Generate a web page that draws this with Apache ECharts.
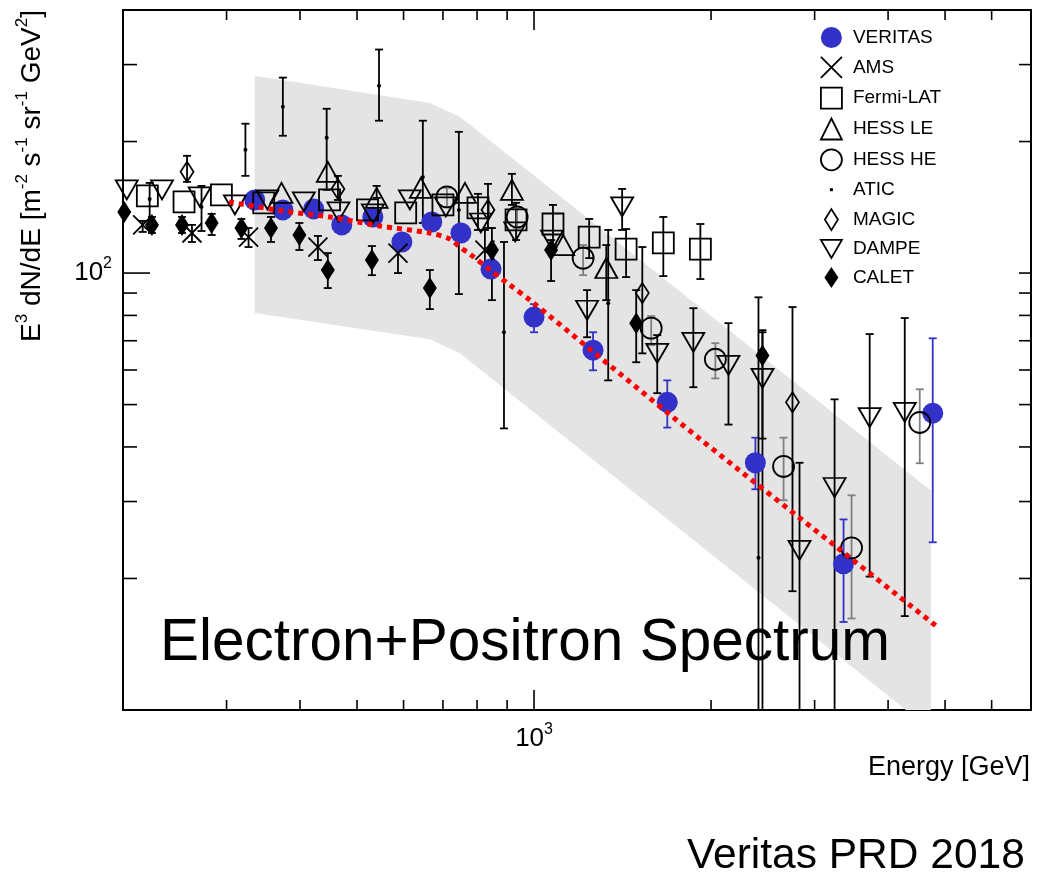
<!DOCTYPE html>
<html>
<head>
    <meta charset="utf-8">
    <title>Electron+Positron Spectrum</title>
    <script src="https://cdn.jsdelivr.net/npm/echarts@6/dist/echarts.min.js"></script>
    <style>
        html, body { margin: 0; padding: 0; background: #fff; }
        #chart { width: 1038px; height: 878px; }
    </style>
</head>
<body>
<div id="chart"></div>
<script type="text/javascript">
    // each point: [E (GeV), E^3 dN/dE, low, high]
    var veritas = [
        [335, 147.0, 147.0, 147.0], [374, 139.5, 139.5, 139.5], [422, 140.2, 140.2, 140.2],
        [471, 128.9, 128.9, 128.9], [532, 134.4, 134.4, 134.4], [596, 117.8, 117.8, 117.8],
        [670, 130.9, 130.9, 130.9], [751, 123.5, 123.5, 123.5], [845, 102.1, 102.1, 102.1],
        [1000, 79.3, 73.2, 84.9], [1260, 66.6, 59.9, 73.2], [1685, 50.6, 44.3, 56.8],
        [2379, 36.8, 32.0, 42.0], [3360, 21.6, 15.9, 27.3], [4764, 47.8, 24.2, 70.9]
    ];
    var ams = [
        [216, 128.9, 124.2, 131.6], [262, 123.5, 117.8, 128.9], [327, 120.9, 114.7, 126.8],
        [429, 114.7, 107.1, 121.6], [587, 111.1, 100.0, 119.0], [825, 112.9, 101.6, 125.5]
    ];
    var fermi = [
        [220, 150.2, 150.2, 150.2], [254, 145.5, 145.5, 145.5], [294, 151.0, 151.0, 151.0],
        [347, 144.8, 144.8, 144.8], [449, 147.0, 147.0, 147.0], [521, 139.5, 139.5, 139.5],
        [605, 137.3, 137.3, 137.3], [700, 143.2, 143.2, 143.2], [803, 141.0, 125.5, 151.8],
        [932, 132.3, 119.0, 144.8], [1077, 129.5, 115.9, 143.2], [1241, 120.9, 108.2, 133.0],
        [1434, 113.5, 97.9, 126.1], [1659, 117.2, 98.4, 134.4], [1918, 113.5, 96.9, 129.5]
    ];
    var hessLE = [
        [372, 152.6, 152.6, 152.6], [446, 170.5, 170.5, 170.5], [540, 148.6, 148.6, 158.3],
        [642, 156.7, 156.7, 156.7], [763, 152.6, 152.6, 152.6], [917, 155.0, 143.2, 168.7],
        [1121, 115.9, 115.9, 115.9], [1327, 102.7, 86.7, 115.9]
    ];
    var hessHE = [
        [711, 149.4, 141.7, 156.7], [936, 134.4, 126.8, 141.0], [1212, 108.2, 98.9, 115.9],
        [1582, 74.8, 68.4, 79.7], [2034, 63.5, 57.4, 69.1], [2657, 36.1, 30.2, 42.0],
        [3467, 23.5, 16.2, 31.0], [4528, 45.5, 36.7, 54.2]
    ];
    var atic = [
        [222, 147.8, 126.8, 160.8], [272, 141.7, 124.8, 158.3], [323, 191.5, 166.9, 219.7],
        [374, 240.3, 206.2, 280.1], [444, 204.0, 155.0, 237.7], [545, 268.5, 223.2, 324.8],
        [647, 166.0, 130.2, 223.2], [745, 139.5, 89.5, 210.5], [889, 73.2, 44.1, 117.8],
        [1337, 85.3, 56.8, 125.5], [2408, 22.3, 9.0, 88.0]
    ];
    var magic = [
        [257, 170.5, 161.7, 185.5], [464, 155.8, 147.0, 166.9], [835, 139.5, 126.8, 160.0],
        [1528, 90.0, 65.5, 114.7], [2751, 50.6, 18.7, 83.6]
    ];
    var dampe = [
        [203, 155.0, 155.0, 155.0], [233, 155.0, 155.0, 155.0], [270, 149.4, 149.4, 149.4],
        [310, 143.2, 143.2, 143.2], [352, 147.0, 147.0, 147.0], [406, 145.5, 145.5, 145.5],
        [465, 138.0, 138.0, 138.0], [532, 136.6, 136.6, 136.6], [615, 147.0, 147.0, 147.0],
        [708, 141.7, 141.7, 141.7], [812, 130.2, 130.2, 130.2], [929, 124.2, 124.2, 124.2],
        [1073, 119.0, 119.0, 119.0], [1231, 82.2, 71.3, 91.4], [1412, 141.7, 125.5, 155.8],
        [1620, 65.5, 53.1, 72.1], [1866, 69.4, 54.8, 83.1], [2141, 61.5, 45.0, 76.8],
        [2446, 57.4, 9.0, 73.2], [2828, 23.2, 9.0, 36.8], [3244, 32.3, 9.0, 51.4],
        [3722, 46.7, 20.2, 72.5], [4270, 48.0, 16.4, 78.9]
    ];
    var calet = [
        [201, 138.0, 138.0, 138.0], [224, 128.9, 123.5, 134.4], [252, 128.9, 123.5, 134.4],
        [283, 130.2, 122.2, 136.6], [318, 126.8, 119.7, 133.0], [357, 126.8, 117.8, 134.4],
        [399, 122.2, 112.9, 130.2], [446, 101.6, 92.4, 111.1], [530, 107.1, 98.9, 115.3],
        [665, 92.4, 82.7, 101.6], [848, 112.9, 86.7, 126.8], [1069, 112.9, 95.9, 119.0],
        [1492, 76.8, 62.5, 91.4], [2446, 64.8, 41.8, 74.0]
    ];

    // red dotted fit
    var fitE = [303, 374, 449, 546, 665, 719, 748, 778, 842, 910, 984, 1270, 1903, 3283, 4878];
    var fitF = [145.5, 138.7, 134.4, 128.2, 123.5, 119.7, 114.7, 110.6, 101.6, 93.9, 86.7, 65.5, 42.0, 23.5, 15.4];

    // grey systematic band (outline)
    var bandE = [335, 665, 748, 4730, 4730, 748, 665, 335];
    var bandF = [283, 245, 228, 31.8, 9.0, 65.5, 70.6, 81.0];

    var xTicks = [300, 400, 500, 600, 700, 800, 900, 1000, 2000, 3000, 4000, 5000, 6000];
    var yTicks = [20, 30, 40, 50, 60, 70, 80, 90, 100, 200, 300];

    var font = "'Liberation Sans', Arial, Helvetica, sans-serif";
    var blue = '#3232c8';
    var openStyle = {color: 'rgba(0,0,0,0)', borderColor: '#000', borderWidth: 1.8, opacity: 1};
    var fillBlack = {color: '#000', borderWidth: 0, opacity: 1};

    function isMajor(v) {
        var l = Math.log10(v);
        return Math.abs(l - Math.round(l)) < 1e-9;
    }

    function errorBars(name, data, color) {
        return {
            name: name + ' err',
            type: 'custom',
            data: data,
            encode: {x: 0, y: 1},
            clip: true,
            silent: true,
            z: 2,
            renderItem: function (params, api) {
                var e = api.value(0), lo = api.value(2), hi = api.value(3);
                if (!(hi > lo)) return null;
                var a = api.coord([e, lo]);
                var b = api.coord([e, hi]);
                var st = {stroke: color, lineWidth: 1.8};
                return {
                    type: 'group', children: [
                        {type: 'line', shape: {x1: a[0], y1: a[1], x2: b[0], y2: b[1]}, style: st},
                        {type: 'line', shape: {x1: a[0] - 4, y1: a[1], x2: a[0] + 4, y2: a[1]}, style: st},
                        {type: 'line', shape: {x1: b[0] - 4, y1: b[1], x2: b[0] + 4, y2: b[1]}, style: st}
                    ]
                };
            }
        };
    }

    function markers(name, data, symbol, size, itemStyle, rotate) {
        return {
            name: name,
            type: 'scatter',
            data: data,
            encode: {x: 0, y: 1},
            symbol: symbol,
            symbolSize: size,
            symbolRotate: rotate || 0,
            itemStyle: itemStyle,
            silent: true,
            z: 3
        };
    }

    var crossPath = 'path://M0,0L20,20M20,0L0,20';
    var downTri = 'path://M0,0L22,0L11,19Z';

    var myChart = echarts.init(document.getElementById('chart'));

    var option = {
        animation: false,
        backgroundColor: '#fff',
        grid: {
            left: 123, right: 7, top: 10, bottom: 168,
            show: true, borderColor: '#000', borderWidth: 2,
            outerBoundsMode: 'none'
        },
        xAxis: {
            type: 'log', logBase: 10, min: 200, max: 7000,
            axisLine: {show: true, lineStyle: {color: '#000', width: 2}},
            axisTick: {show: false},
            splitLine: {show: false},
            axisLabel: {
                margin: 12,
                formatter: function (v) {
                    return Math.abs(v - 1000) < 1e-6 ? '{b|10}{s|3}' : '';
                },
                rich: {
                    b: {fontSize: 26, lineHeight: 34, fontFamily: font, color: '#000'},
                    s: {fontSize: 16, lineHeight: 16, verticalAlign: 'top', fontFamily: font, color: '#000'}
                }
            }
        },
        yAxis: {
            type: 'log', logBase: 10, min: 10, max: 400,
            axisLine: {show: true, lineStyle: {color: '#000', width: 2}},
            axisTick: {show: false},
            splitLine: {show: false},
            axisLabel: {
                margin: 11,
                formatter: function (v) {
                    return Math.abs(v - 100) < 1e-6 ? '{b|10}{s|2}' : '';
                },
                rich: {
                    b: {fontSize: 26, lineHeight: 34, fontFamily: font, color: '#000'},
                    s: {fontSize: 16, lineHeight: 16, verticalAlign: 'top', fontFamily: font, color: '#000'}
                }
            }
        },
        legend: {
            orient: 'vertical',
            left: 815, top: 22,
            itemWidth: 21, itemHeight: 21, itemGap: 8,
            selectedMode: false,
            textStyle: {fontSize: 19, fontFamily: font, color: '#000', padding: [0, 0, 0, 6]},
            data: [
                {name: 'VERITAS', icon: 'circle', itemStyle: {color: blue, borderWidth: 0, opacity: 1}},
                {name: 'AMS', icon: crossPath, itemStyle: openStyle},
                {name: 'Fermi-LAT', icon: 'rect', itemStyle: openStyle},
                {name: 'HESS LE', icon: 'triangle', itemStyle: openStyle},
                {name: 'HESS HE', icon: 'circle', itemStyle: openStyle},
                {name: 'ATIC', icon: 'path://M0,0M21,21M9,9L12,9L12,12L9,12Z', itemStyle: fillBlack},
                {name: 'MAGIC', icon: 'path://M0,0M21,21M10.5,0L17,10.5L10.5,21L4,10.5Z', itemStyle: openStyle},
                {name: 'DAMPE', icon: downTri, itemStyle: openStyle},
                {name: 'CALET', icon: 'path://M0,0M21,21M10.5,0L17.5,10.5L10.5,21L3.5,10.5Z', itemStyle: fillBlack}
            ]
        },
        graphic: [
            {
                type: 'text', x: 32, y: 10, rotation: Math.PI / 2, z: 100,
                style: {
                    text: '{b|E}{s|3}{b| dN/dE [m}{s|-2}{b| s}{s|-1}{b| sr}{s|-1}{b| GeV}{s|2}{b|]}',
                    align: 'right', verticalAlign: 'middle', fill: '#000',
                    rich: {
                        b: {fontSize: 28, lineHeight: 36, fontFamily: font, fill: '#000'},
                        s: {fontSize: 17, lineHeight: 17, verticalAlign: 'top', fontFamily: font, fill: '#000'}
                    }
                }
            },
            {
                type: 'text', x: 160, y: 644, z: 100,
                style: {text: 'Electron+Positron Spectrum', fontSize: 58.5, fontFamily: font, fill: '#000', verticalAlign: 'middle'}
            },
            {
                type: 'text', x: 1030, y: 768, z: 100,
                style: {text: 'Energy [GeV]', fontSize: 27, fontFamily: font, fill: '#000', align: 'right', verticalAlign: 'middle'}
            },
            {
                type: 'text', x: 687, y: 856, z: 100,
                style: {text: 'Veritas PRD 2018', fontSize: 42.5, fontFamily: font, fill: '#000', verticalAlign: 'middle'}
            }
        ],
        series: [
            {
                name: 'band',
                type: 'custom',
                data: bandE.map(function (e, i) { return [e, bandF[i]]; }),
                encode: {x: 0, y: 1},
                clip: true,
                silent: true,
                z: 1,
                renderItem: function (params, api) {
                    if (params.dataIndex !== 0) return null;
                    var pts = bandE.map(function (e, i) { return api.coord([e, bandF[i]]); });
                    return {type: 'polygon', shape: {points: pts}, style: {fill: '#e4e4e4'}};
                }
            },
            errorBars('VERITAS', veritas, blue),
            errorBars('AMS', ams, '#000'),
            errorBars('Fermi-LAT', fermi, '#000'),
            errorBars('HESS LE', hessLE, '#000'),
            errorBars('HESS HE', hessHE, '#808080'),
            errorBars('ATIC', atic, '#000'),
            errorBars('MAGIC', magic, '#000'),
            errorBars('DAMPE', dampe, '#000'),
            errorBars('CALET', calet, '#000'),
            markers('VERITAS', veritas, 'circle', 21, {color: blue, opacity: 1}),
            markers('AMS', ams, crossPath, 19, openStyle),
            markers('Fermi-LAT', fermi, 'rect', 21, openStyle),
            markers('HESS LE', hessLE, 'triangle', [22, 20], openStyle),
            markers('HESS HE', hessHE, 'circle', 21, openStyle),
            markers('ATIC', atic, 'circle', 4, fillBlack),
            markers('MAGIC', magic, 'diamond', [13, 20], openStyle),
            markers('DAMPE', dampe, downTri, [22, 19], openStyle),
            markers('CALET', calet, 'diamond', [14, 22], fillBlack),
            {
                name: 'fit',
                type: 'line',
                data: fitE.map(function (e, i) { return [e, fitF[i]]; }),
                showSymbol: false,
                smooth: 0.3,
                silent: true,
                z: 6,
                lineStyle: {color: '#ff0000', width: 5, type: [5, 5], cap: 'butt', opacity: 1}
            },
            {
                name: 'xticks',
                type: 'custom',
                data: xTicks.map(function (v) { return [v, 100]; }),
                encode: {x: 0, y: 1},
                silent: true,
                z: 7,
                renderItem: function (params, api) {
                    var cs = params.coordSys;
                    var v = api.value(0);
                    var p = api.coord([v, 100]);
                    var len = isMajor(v) ? 20 : 10;
                    var st = {stroke: '#000', lineWidth: 1.6};
                    var b = cs.y + cs.height;
                    return {
                        type: 'group', children: [
                            {type: 'line', shape: {x1: p[0], y1: b, x2: p[0], y2: b - len}, style: st},
                            {type: 'line', shape: {x1: p[0], y1: cs.y, x2: p[0], y2: cs.y + len}, style: st}
                        ]
                    };
                }
            },
            {
                name: 'yticks',
                type: 'custom',
                data: yTicks.map(function (v) { return [1000, v]; }),
                encode: {x: 0, y: 1},
                silent: true,
                z: 7,
                renderItem: function (params, api) {
                    var cs = params.coordSys;
                    var v = api.value(1);
                    var p = api.coord([1000, v]);
                    var len = isMajor(v) ? 27 : 14;
                    var st = {stroke: '#000', lineWidth: 1.6};
                    var r = cs.x + cs.width;
                    return {
                        type: 'group', children: [
                            {type: 'line', shape: {x1: cs.x, y1: p[1], x2: cs.x + len, y2: p[1]}, style: st},
                            {type: 'line', shape: {x1: r, y1: p[1], x2: r - 12, y2: p[1]}, style: st}
                        ]
                    };
                }
            }
        ]
    };

    myChart.setOption(option);
</script>
</body>
</html>
